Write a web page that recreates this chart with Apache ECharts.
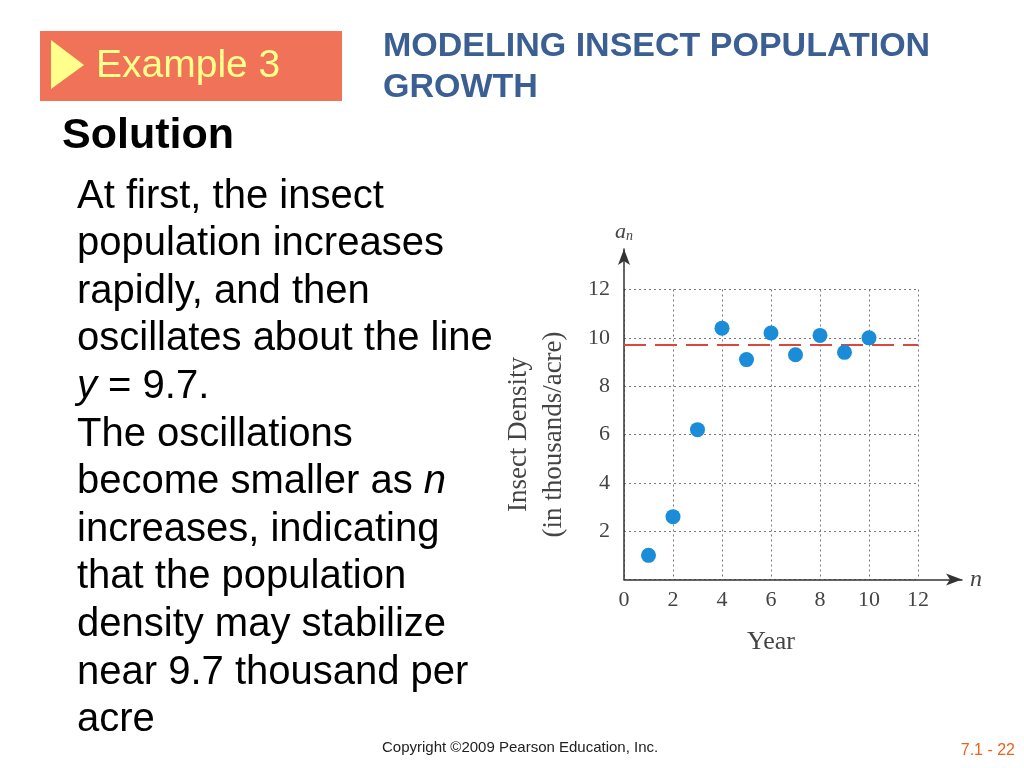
<!DOCTYPE html>
<html>
<head>
<meta charset="utf-8">
<script src="https://cdn.jsdelivr.net/npm/echarts@6/dist/echarts.min.js"></script>
<style>
html,body{margin:0;padding:0;background:#fff;}
#chart{width:1024px;height:768px;}
</style>
</head>
<body>
<div id="chart"></div>
<script>
// ---- data ----
const years = [1, 2, 3, 4, 5, 6, 7, 8, 9, 10];
const density = [1.0, 2.6, 6.2, 10.4, 9.1, 10.2, 9.3, 10.1, 9.4, 10.0];
const stableLevel = 9.7;
const xTickLabels = ['0', '2', '4', '6', '8', '10', '12'];
const yTickLabels = ['2', '4', '6', '8', '10', '12'];
const bodyLines = [
  'At first, the insect',
  'population increases',
  'rapidly, and then',
  'oscillates about the line',
  '{i|y} = 9.7.',
  'The oscillations',
  'become smaller as {i|n}',
  'increases, indicating',
  'that the population',
  'density may stabilize',
  'near 9.7 thousand per',
  'acre'
];

const SANS = '"Liberation Sans", Arial, Helvetica, sans-serif';
const SERIF = '"Liberation Serif", "Times New Roman", serif';

const chart = echarts.init(document.getElementById('chart'), null, {renderer: 'canvas'});

const graphics = [
  {type: 'rect', shape: {x: 40, y: 31, width: 302, height: 70}, style: {fill: '#f07258'}},
  {type: 'polygon', shape: {points: [[51, 40], [84, 65], [51, 89]]}, style: {fill: '#ffff8c'}},
  {type: 'text', x: 96, y: 66, style: {text: 'Example 3', font: '39px ' + SANS, fill: '#ffff8c', verticalAlign: 'middle', align: 'left'}},
  {type: 'text', x: 383, y: 47, style: {text: 'MODELING INSECT POPULATION', font: 'bold 34px ' + SANS, fill: '#3c5f93', verticalAlign: 'middle', align: 'left'}},
  {type: 'text', x: 383, y: 88, style: {text: 'GROWTH', font: 'bold 34px ' + SANS, fill: '#3c5f93', verticalAlign: 'middle', align: 'left'}},
  {type: 'text', x: 62, y: 136, style: {text: 'Solution', font: 'bold 43px ' + SANS, fill: '#000', verticalAlign: 'middle', align: 'left'}},
  {type: 'text', x: 382, y: 748, style: {text: 'Copyright \u00A92009 Pearson Education, Inc.', font: '15px ' + SANS, fill: '#222', verticalAlign: 'middle', align: 'left'}},
  {type: 'text', x: 1015, y: 751, style: {text: '7.1 - 22', font: '16px ' + SANS, fill: '#e8641e', verticalAlign: 'middle', align: 'right'}}
];
bodyLines.forEach(function (t, i) {
  graphics.push({
    type: 'text', x: 77, y: 210 + i * 47.6 - 13.5,
    style: {
      text: t, fill: '#000', font: '40px ' + SANS, verticalAlign: 'middle', align: 'left',
      rich: {i: {fontStyle: 'italic', fontSize: 40, fontFamily: SANS, fill: '#000'}}
    }
  });
});

const gridLineStyle = {color: '#7a7a7a', type: [2, 3], width: 1};

const option = {
  backgroundColor: '#ffffff',
  animation: false,
  graphic: graphics,
  grid: [
    {left: 624, top: 289.5, width: 294, height: 290, containLabel: false},
    {left: 624, top: 249, width: 338, height: 330.5, containLabel: false}
  ],
  xAxis: [
    {
      gridIndex: 0, type: 'value', min: 0, max: 12, interval: 2,
      axisLine: {show: false}, axisTick: {show: false},
      axisLabel: {
        margin: 10, color: '#444', fontFamily: SERIF, fontSize: 22,
        formatter: function (v) { return xTickLabels.indexOf(String(v)) >= 0 ? String(v) : ''; }
      },
      splitLine: {show: true, lineStyle: gridLineStyle},
      name: 'Year', nameLocation: 'middle', nameGap: 50,
      nameTextStyle: {fontFamily: SERIF, fontSize: 26, color: '#444'}
    },
    {
      gridIndex: 1, type: 'value', min: 0, max: 1,
      axisLine: {show: true, symbol: ['none', 'arrow'], symbolSize: [9, 16], lineStyle: {color: '#333', width: 1.5}},
      axisTick: {show: false}, axisLabel: {show: false}, splitLine: {show: false},
      name: '{n|n}', nameLocation: 'end', nameGap: 8,
      nameTextStyle: {rich: {n: {fontFamily: SERIF, fontStyle: 'italic', fontSize: 24, color: '#444'}}}
    }
  ],
  yAxis: [
    {
      gridIndex: 0, type: 'value', min: 0, max: 12, interval: 2,
      axisLine: {show: false}, axisTick: {show: false},
      axisLabel: {
        margin: 14, color: '#444', fontFamily: SERIF, fontSize: 22,
        formatter: function (v) { return yTickLabels.indexOf(String(v)) >= 0 ? String(v) : ''; }
      },
      splitLine: {show: true, lineStyle: gridLineStyle},
      name: 'Insect Density\n(in thousands/acre)', nameLocation: 'middle', nameRotate: 90, nameGap: 53,
      nameTextStyle: {fontFamily: SERIF, fontSize: 27, color: '#444', lineHeight: 35, align: 'center'}
    },
    {
      gridIndex: 1, type: 'value', min: 0, max: 1,
      axisLine: {show: true, symbol: ['none', 'arrow'], symbolSize: [9, 16], lineStyle: {color: '#333', width: 1.5}},
      axisTick: {show: false}, axisLabel: {show: false}, splitLine: {show: false},
      name: '{a|a}{s|n}', nameLocation: 'end', nameGap: 6,
      nameTextStyle: {rich: {
        a: {fontFamily: SERIF, fontStyle: 'italic', fontSize: 22, color: '#444'},
        s: {fontFamily: SERIF, fontStyle: 'italic', fontSize: 14, color: '#444', verticalAlign: 'bottom', padding: [8, 0, 0, 0]}
      }}
    }
  ],
  series: [
    {
      type: 'scatter', xAxisIndex: 0, yAxisIndex: 0,
      data: years.map(function (x, i) { return [x, density[i]]; }),
      symbol: 'circle', symbolSize: 15,
      itemStyle: {color: '#1b8cd8', opacity: 1},
      z: 5,
      markLine: {
        silent: true, symbol: ['none', 'none'], label: {show: false},
        lineStyle: {color: '#d9473f', width: 2, type: [22, 9]},
        data: [{yAxis: stableLevel}]
      }
    }
  ]
};
chart.setOption(option);
</script>
</body>
</html>
